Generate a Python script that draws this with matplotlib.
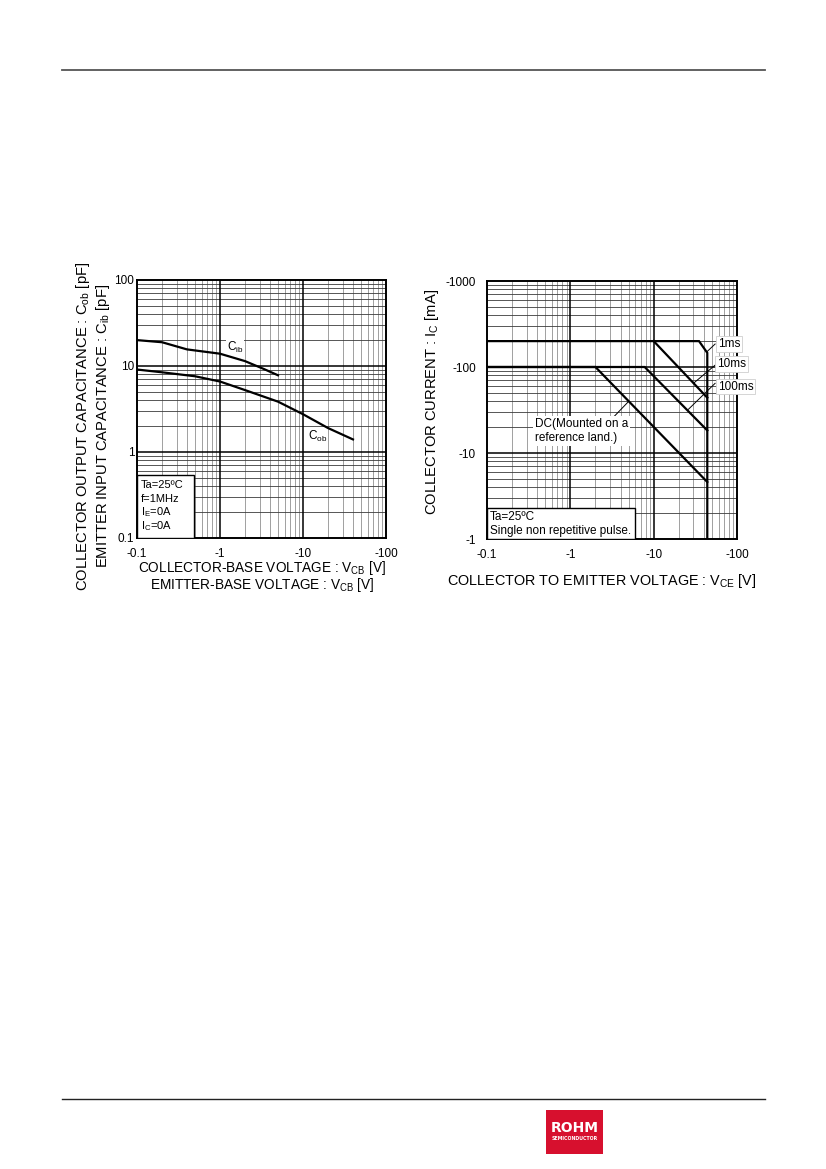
import matplotlib
matplotlib.use("Agg")
import matplotlib.pyplot as plt
from matplotlib.patches import Rectangle
from matplotlib.lines import Line2D
from matplotlib.ticker import FixedLocator, FixedFormatter, NullFormatter
import numpy as np

plt.rcParams['font.family'] = ['Liberation Sans', 'DejaVu Sans']
plt.rcParams['mathtext.fontset'] = 'custom'
plt.rcParams['mathtext.rm'] = 'Liberation Sans'
plt.rcParams['mathtext.it'] = 'Liberation Sans'

# ---------------- data ----------------
# Left chart: capacitance vs |V_CB|
cib_v = [0.1, 0.2, 0.4, 1.0, 2.0, 3.4, 5.0]
cib_c = [20.0, 18.9, 15.6, 13.9, 11.4, 9.2, 7.8]
cob_v = [0.1, 0.2, 0.5, 1.0, 2.0, 5.0, 10.0, 20.0, 40.0]
cob_c = [9.1, 8.45, 7.6, 6.6, 5.25, 3.85, 2.75, 1.9, 1.4]

left_xticks = [0.1, 1, 10, 100]
left_xlabels = ["-0.1", "-1", "-10", "-100"]
left_yticks = [0.1, 1, 10, 100]
left_ylabels = ["0.1", "1", "10", "100"]

# Right chart: safe operating area, |V_CE| [V] vs |I_C| [mA]
ms1_v = [0.1, 35, 44, 44]
ms1_i = [200, 200, 146, 1]
ms10_v = [10, 44]
ms10_i = [200, 44]
ms100_v = [0.1, 7.8, 44]
ms100_i = [100, 100, 18.3]
dc_v = [0.1, 2.0, 44]
dc_i = [100, 100, 4.6]

right_xticks = [0.1, 1, 10, 100]
right_xlabels = ["-0.1", "-1", "-10", "-100"]
right_yticks = [1, 10, 100, 1000]
right_ylabels = ["-1", "-10", "-100", "-1000"]

W, H = 826, 1169
fig = plt.figure(figsize=(W / 100, H / 100), dpi=100)


def fx(x):
    return x / W


def fy(y):
    return 1 - y / H


def ax_rect(x0, y0, x1, y1):
    return [fx(x0), fy(y1), fx(x1) - fx(x0), fy(y0) - fy(y1)]


def setup_grid(ax, xlim, ylim):
    ax.set_xscale('log')
    ax.set_yscale('log')
    ax.set_xlim(*xlim)
    ax.set_ylim(*ylim)
    # minor grid lines
    for dec in range(int(np.log10(xlim[0])), int(np.log10(xlim[1]))):
        for m in range(2, 10):
            v = m * 10 ** dec
            ax.axvline(v, color='#a0a0a0', lw=0.7, zorder=1)
    for dec in range(int(np.log10(ylim[0])), int(np.log10(ylim[1]))):
        for m in range(2, 10):
            v = m * 10 ** dec
            ax.axhline(v, color='#3a3a3a', lw=0.6, zorder=1)
    # major grid lines
    dx = 10.0 ** np.arange(np.log10(xlim[0]) + 1, np.log10(xlim[1]))
    dy = 10.0 ** np.arange(np.log10(ylim[0]) + 1, np.log10(ylim[1]))
    for v in dx:
        ax.axvline(v, color='black', lw=1.1, zorder=1.5)
    for v in dy:
        ax.axhline(v, color='black', lw=1.1, zorder=1.5)
    for s in ax.spines.values():
        s.set_linewidth(1.4)
        s.set_zorder(5)
    ax.tick_params(which='both', length=0, labelsize=8.5)
    ax.xaxis.set_minor_formatter(NullFormatter())
    ax.yaxis.set_minor_formatter(NullFormatter())


# ---------------- left chart ----------------
axL = fig.add_axes(ax_rect(137, 280, 386, 538))
setup_grid(axL, (0.1, 100), (0.1, 100))
axL.xaxis.set_major_locator(FixedLocator(left_xticks))
axL.xaxis.set_major_formatter(FixedFormatter(left_xlabels))
axL.yaxis.set_major_locator(FixedLocator(left_yticks))
axL.yaxis.set_major_formatter(FixedFormatter(left_ylabels))
axL.tick_params(axis='y', pad=2)
axL.tick_params(axis='x', pad=7)

axL.plot(cib_v, cib_c, color='black', lw=1.6, zorder=4)
axL.plot(cob_v, cob_c, color='black', lw=1.6, zorder=4)
axL.text(1.2, 16.6, r"C$_{\rm ib}$", fontsize=8.5, va='center', ha='left', zorder=3,
         bbox=dict(facecolor='white', edgecolor='none', pad=0.3))
axL.text(11.5, 1.5, r"C$_{\rm ob}$", fontsize=8.5, va='center', ha='left', zorder=3,
         bbox=dict(facecolor='white', edgecolor='none', pad=0.3))

axL.add_patch(Rectangle((0, 0), 57 / 249, 63 / 258, transform=axL.transAxes,
                        facecolor='white', edgecolor='black', lw=1.0, zorder=6))
note_lines = ["Ta=25ºC", "f=1MHz", r"I$_{\rm E}$=0A", r"I$_{\rm C}$=0A"]
for k, t in enumerate(note_lines):
    fig.text(fx(141), fy(485 + 13.6 * k), t, fontsize=8, va='center', ha='left', zorder=7)

fig.text(fx(83), fy(426), r"COLLECTOR OUTPUT CAPACITANCE : C$_{\rm ob}$ [pF]",
         rotation=90, fontsize=10.6, ha='center', va='center')
fig.text(fx(103), fy(426), r"EMITTER INPUT CAPACITANCE : C$_{\rm ib}$ [pF]",
         rotation=90, fontsize=10.6, ha='center', va='center')
fig.text(fx(262), fy(568), r"COLLECTOR-BASE VOLTAGE : V$_{\rm CB}$ [V]",
         fontsize=9.8, ha='center', va='center')
fig.text(fx(262), fy(585), r"EMITTER-BASE VOLTAGE : V$_{\rm CB}$ [V]",
         fontsize=9.8, ha='center', va='center')

# ---------------- right chart ----------------
axR = fig.add_axes(ax_rect(487, 281, 737, 539))
setup_grid(axR, (0.1, 100), (1, 1000))
axR.xaxis.set_major_locator(FixedLocator(right_xticks))
axR.xaxis.set_major_formatter(FixedFormatter(right_xlabels))
axR.yaxis.set_major_locator(FixedLocator(right_yticks))
axR.yaxis.set_major_formatter(FixedFormatter(right_ylabels))
axR.tick_params(axis='y', pad=8)
axR.tick_params(axis='x', pad=7)

for v, i in [(ms1_v, ms1_i), (ms10_v, ms10_i), (ms100_v, ms100_i), (dc_v, dc_i)]:
    axR.plot(v, i, color='black', lw=1.6, zorder=4, solid_joinstyle='miter')

# pointer lines and labels
pointers = [((43.4, 150), (54.6, 185)),
            ((30.0, 64.6), (54.6, 105)),
            ((26.1, 32.2), (54.6, 64.6)),
            ((4.97, 39.5), (3.28, 26.0))]
for (a, b) in pointers:
    axR.plot([a[0], b[0]], [a[1], b[1]], color='black', lw=0.7, zorder=4)

lab_kw = dict(fontsize=8.5, va='center', ha='left', zorder=6,
              bbox=dict(facecolor='white', edgecolor='#cfcfcf', lw=0.6, pad=1.2))
axR.text(59.3, 185, "1ms", **lab_kw)
axR.text(57.6, 108, "10ms", **lab_kw)
axR.text(59.3, 59, "100ms", **lab_kw)
axR.text(0.377, 18.0, "DC(Mounted on a\nreference land.)", fontsize=8.5, va='center',
         ha='left', zorder=6, linespacing=1.25,
         bbox=dict(facecolor='white', edgecolor='none', pad=1.2))

axR.add_patch(Rectangle((0, 0), 148 / 250, 31 / 258, transform=axR.transAxes,
                        facecolor='white', edgecolor='black', lw=1.0, zorder=6))
fig.text(fx(490), fy(516.7), "Ta=25ºC", fontsize=8.5, va='center', ha='left', zorder=7)
fig.text(fx(490), fy(531), "Single non repetitive pulse.", fontsize=8.5, va='center',
         ha='left', zorder=7)

fig.text(fx(432), fy(402), r"COLLECTOR CURRENT : I$_{\rm C}$ [mA]",
         rotation=90, fontsize=10.6, ha='center', va='center')
fig.text(fx(602), fy(581), r"COLLECTOR TO EMITTER VOLTAGE : V$_{\rm CE}$ [V]",
         fontsize=10.4, ha='center', va='center')

# ---------------- page decorations ----------------
fig.add_artist(Line2D([fx(62), fx(765)], [fy(70), fy(70)], color='#555555', lw=1.3))
fig.add_artist(Line2D([fx(62), fx(765)], [fy(1099), fy(1099)], color='#222222', lw=1.0))
fig.add_artist(Rectangle((fx(546), fy(1154)), fx(603) - fx(546), fy(1110) - fy(1154),
                         transform=fig.transFigure, facecolor='#d7102e', edgecolor='none'))
fig.text(fx(574.5), fy(1128), "ROHM", color='white', fontsize=10, fontweight='bold',
         family='DejaVu Sans', ha='center', va='center')
fig.text(fx(574.5), fy(1139), "SEMICONDUCTOR", color='white', fontsize=3.4,
         fontweight='bold', family='DejaVu Sans', ha='center', va='center')

fig.savefig("out.png", dpi=100)
